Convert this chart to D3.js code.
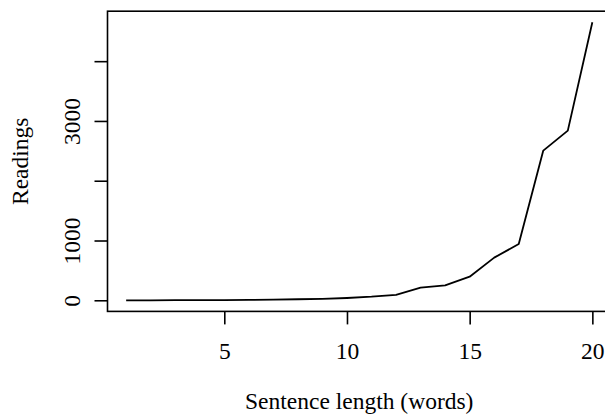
<!DOCTYPE html>
<html>
<head>
<meta charset="utf-8">
<script src="https://cdn.jsdelivr.net/npm/d3@7/dist/d3.min.js"></script>
<style>
html,body{margin:0;padding:0;background:#fff;}
svg{display:block;}
text{font-family:"Palatino Linotype","URW Palladio L","P052","Liberation Serif",serif;fill:#000;}
</style>
</head>
<body>
<svg id="chart" width="605" height="414"></svg>
<script>
const sentenceLength = [1,2,3,4,5,6,7,8,9,10,11,12,13,14,15,16,17,18,19,20];
const readings = [0,0,1,2,3,6,10,17,25,38,60,92,211,251,395,713,942,2504,2838,4650];
const xTicks = [5,10,15,20];
const yTicks = [0,1000,2000,3000,4000];
const yTickLabels = ["0","1000","","3000",""];
const xTitle = "Sentence length (words)";
const yTitle = "Readings";

const svg = d3.select("#chart");
const fs = 23.5;

const xmin = d3.min(sentenceLength), xmax = d3.max(sentenceLength);
const xpad = (xmax - xmin) * 0.04;
const ymin = d3.min(readings), ymax = d3.max(readings);
const ypad = (ymax - ymin) * 0.04;

const plot = {left:107.5, right:611, top:11.2, bottom:311.4};
const x = d3.scaleLinear().domain([xmin - xpad, xmax + xpad]).range([plot.left, plot.right]);
const y = d3.scaleLinear().domain([ymin - ypad, ymax + ypad]).range([plot.bottom, plot.top]);

// data line
svg.append("path")
  .datum(sentenceLength.map((d,i)=>[d, readings[i]]))
  .attr("fill","none").attr("stroke","#000").attr("stroke-width",1.8)
  .attr("stroke-linejoin","round")
  .attr("d", d3.line().x(d=>x(d[0])).y(d=>y(d[1])));

// box
svg.append("rect")
  .attr("x", plot.left).attr("y", plot.top)
  .attr("width", plot.right - plot.left).attr("height", plot.bottom - plot.top)
  .attr("fill","none").attr("stroke","#000").attr("stroke-width",1.6);

// x axis
const xAxis = d3.axisBottom(x).tickValues(xTicks).tickSize(13).tickPadding(0).tickFormat(d3.format("d"));
const gx = svg.append("g").attr("transform",`translate(0,${plot.bottom})`).call(xAxis);
gx.select(".domain").remove();
gx.selectAll(".tick line").attr("stroke","#000").attr("stroke-width",1.6);
gx.selectAll(".tick text").attr("font-size",fs).attr("font-family",null)
  .attr("dy",null).attr("y",359 - plot.bottom);

// y axis
const yAxis = d3.axisLeft(y).tickValues(yTicks).tickSize(13).tickPadding(0)
  .tickFormat((d,i)=>yTickLabels[i]);
const gy = svg.append("g").attr("transform",`translate(${plot.left},0)`).call(yAxis);
gy.select(".domain").remove();
gy.selectAll(".tick line").attr("stroke","#000").attr("stroke-width",1.6);
gy.selectAll(".tick text")
  .attr("font-size",fs).attr("font-family",null)
  .attr("x",null).attr("dy",null)
  .attr("text-anchor","middle")
  .attr("transform",`translate(${79.5 - plot.left},0) rotate(-90)`);

// titles
svg.append("text")
  .attr("x",(plot.left+plot.right)/2).attr("y",409)
  .attr("text-anchor","middle").attr("font-size",fs)
  .text(xTitle);
svg.append("text")
  .attr("transform",`translate(28,${(plot.top+plot.bottom)/2}) rotate(-90)`)
  .attr("text-anchor","middle").attr("font-size",fs)
  .text(yTitle);
</script>
</body>
</html>
